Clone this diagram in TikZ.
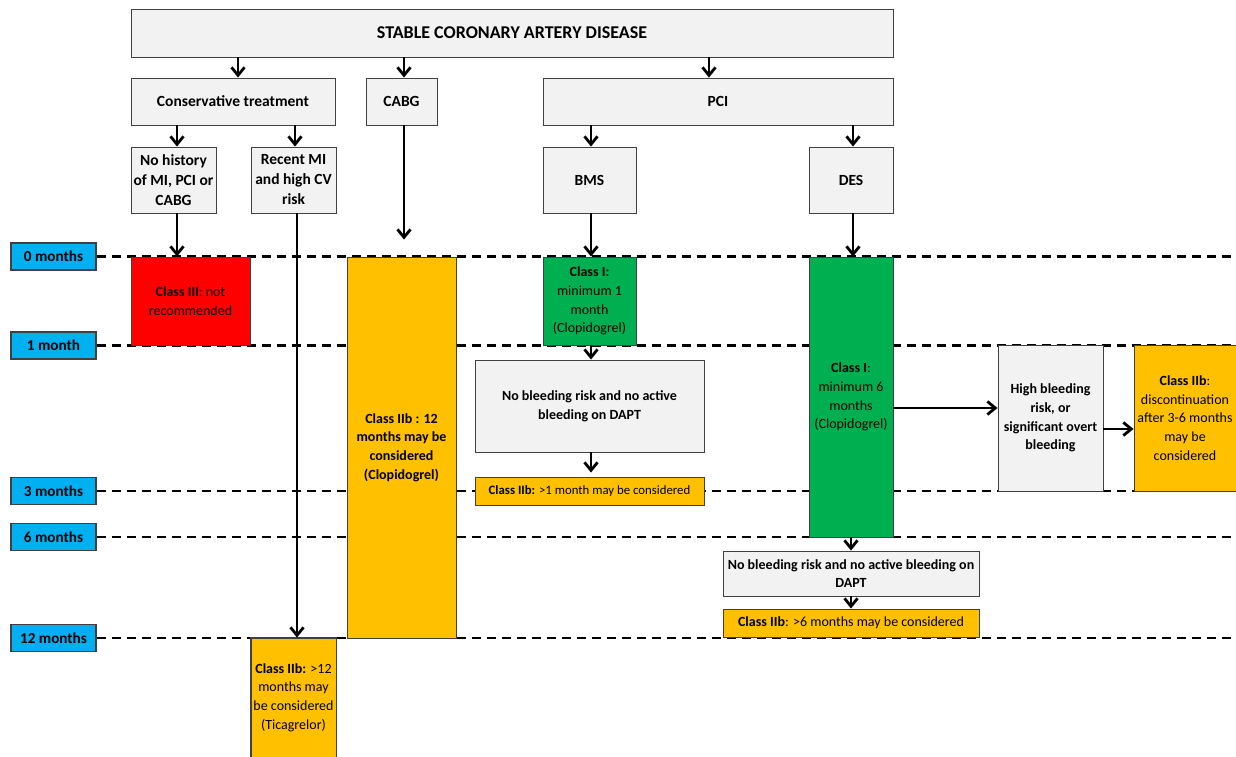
\documentclass[tikz,border=0pt]{standalone}
\usepackage{fontspec}
\setmainfont{Carlito}
\usetikzlibrary{arrows.meta}
\definecolor{cgray}{HTML}{F2F2F2}
\definecolor{cred}{HTML}{FF0000}
\definecolor{cgreen}{HTML}{00B050}
\definecolor{corange}{HTML}{FFC000}
\definecolor{ccyan}{HTML}{00B0F0}
\definecolor{cborder}{HTML}{404040}
\begin{document}
\begin{tikzpicture}[x=1pt,y=-1pt,
  box/.style={draw=cborder, line width=0.9pt, align=center, inner sep=1pt},
  hdr/.style={box, fill=cgray, font=\fontsize{15.5}{20}\selectfont\bfseries},
  cls/.style={box, font=\fontsize{14}{18.6}\selectfont},
  clsb/.style={cls, font=\fontsize{14}{18.6}\selectfont\bfseries},
  tlab/.style={box, fill=ccyan, line width=1.2pt, minimum width=85pt, minimum height=27pt, font=\fontsize{15.2}{18}\selectfont\bfseries},
  arr/.style={line width=2.8pt, -{Straight Barb[length=8pt,width=13pt]}},
  dline/.style={line width=2.2pt, dash pattern=on 9.5pt off 5.5pt},
]
\useasboundingbox (0,0) rectangle (1236,757);
\fill[white] (0,0) rectangle (1236,757);

% time labels and dashed lines
\node[tlab] (t0) at (53.5,256.5) {0 months};
\node[tlab] (t1) at (53.5,345.5) {1 month};
\node[tlab] (t3) at (53.5,491) {3 months};
\node[tlab] (t6) at (53.5,537) {6 months};
\node[tlab] (t12) at (53.5,638) {12 months};
\coordinate (e0) at (1236,256.5);
\coordinate (e1) at (1236,345.5);
\coordinate (e3) at (1236,491);
\coordinate (e6) at (1236,537);
\coordinate (e12) at (1236,638);
\draw[dline] (t0.east) -- (e0);
\draw[dline] (t1.east) -- (e1);
\draw[dline] (t3.east) -- (e3);
\draw[dline] (t6.east) -- (e6);
\draw[dline] (t12.east) -- (e12);

% header boxes
\node[hdr, minimum width=762pt, minimum height=48pt, font=\fontsize{18}{22}\selectfont\bfseries] (scad) at (512,33) {STABLE CORONARY ARTERY DISEASE};
\node[hdr, minimum width=204pt, minimum height=47pt] (cons) at (233,101.5) {Conservative treatment};
\node[hdr, minimum width=71pt, minimum height=47pt] (cabg) at (401.5,101.5) {CABG};
\node[hdr, minimum width=350pt, minimum height=47pt] (pci) at (718,101.5) {PCI};

\node[hdr, minimum width=85pt, minimum height=66pt] (nohist) at (173.5,180) {No history\\of MI, PCI or\\CABG};
\node[hdr, minimum width=85pt, minimum height=66pt] (recent) at (293.5,180) {Recent MI\\and high CV\\risk};
\node[hdr, minimum width=93pt, minimum height=66pt] (bms) at (589.5,180) {BMS};
\node[hdr, minimum width=84pt, minimum height=66pt] (des) at (851,180) {DES};

% class boxes
\node[cls, fill=cred, minimum width=119pt, minimum height=88pt] (red) at (190.5,301) {\textbf{Class III}: not\\recommended};
\node[clsb, fill=corange, minimum width=109pt, minimum height=381pt] (cabgo) at (401.5,447.5) {Class IIb : 12\\months may be\\considered\\(Clopidogrel)};
\node[cls, fill=corange, minimum width=85pt, minimum height=119pt] (tica) at (293.5,697.5) {\textbf{Class IIb:} >12\\months may\\be considered\\(Ticagrelor)};
\draw[cborder, line width=0.9pt] (tica.south west) -- (tica.north west) -- (tica.north east) -- (tica.south east);

\node[cls, fill=cgreen, minimum width=93pt, minimum height=88pt] (bmsg) at (589.5,301) {\textbf{Class I:}\\minimum 1\\month\\(Clopidogrel)};
\node[clsb, fill=cgray, minimum width=229pt, minimum height=92pt] (nb1) at (589.5,406) {No bleeding risk and no active\\bleeding on DAPT};
\node[cls, fill=corange, minimum width=229pt, minimum height=28pt, font=\fontsize{12.8}{16}\selectfont] (o1) at (589.5,491) {\textbf{Class IIb:} >1 month may be considered};

\node[cls, fill=cgreen, minimum width=84pt, minimum height=280pt] (desg) at (851,397) {\textbf{Class I}:\\minimum 6\\months\\(Clopidogrel)};
\node[clsb, fill=cgray, minimum width=105pt, minimum height=146pt] (hbr) at (1050.5,418) {High bleeding\\risk, or\\significant overt\\bleeding};
\node[cls, fill=corange, minimum width=102pt, minimum height=146pt] (o3) at (1185,418) {\textbf{Class IIb}:\\discontinuation\\after 3-6 months\\may be\\considered};
\node[clsb, fill=cgray, minimum width=256pt, minimum height=45pt] (nb2) at (851,573.5) {No bleeding risk and no active bleeding on\\DAPT};
\node[cls, fill=corange, minimum width=256pt, minimum height=28pt] (o2) at (851,623) {\textbf{Class IIb}: >6 months may be considered};

% arrows
\draw[arr] ([xshift=5pt]cons.north |- scad.south) -- ([xshift=5pt]cons.north);
\draw[arr] ([xshift=2.5pt]cabg.north |- scad.south) -- ([xshift=2.5pt]cabg.north);
\draw[arr] ([xshift=-9pt]pci.north |- scad.south) -- ([xshift=-9pt]pci.north);
\draw[arr] ([xshift=3.5pt]nohist.north |- cons.south) -- ([xshift=3.5pt]nohist.north);
\draw[arr] ([xshift=1.5pt]recent.north |- cons.south) -- ([xshift=1.5pt]recent.north);
\draw[arr] ([xshift=1.5pt]bms.north |- pci.south) -- ([xshift=1.5pt]bms.north);
\draw[arr] ([xshift=2pt]des.north |- pci.south) -- ([xshift=2pt]des.north);
\draw[arr] ([xshift=3.5pt]nohist.south) -- ([xshift=3.5pt]nohist.south |- red.north);
\draw[arr] ([xshift=3.5pt]recent.south) -- ([xshift=3.5pt]recent.south |- tica.north);
\draw[arr] ([xshift=2.5pt]cabg.south) -- ([xshift=2.5pt,yshift=17pt]cabgo.north);
\draw[arr] ([xshift=1.5pt]bms.south) -- ([xshift=1.5pt]bms.south |- bmsg.north);
\draw[arr] ([xshift=1.5pt]bmsg.south) -- ([xshift=1.5pt]bmsg.south |- nb1.north);
\draw[arr] ([xshift=1.5pt]nb1.south) -- ([xshift=1.5pt,yshift=4pt]nb1.south |- o1.north);
\draw[arr] ([xshift=2pt]des.south) -- ([xshift=2pt]des.south |- desg.north);
\draw[arr] (desg.south) -- (desg.south |- nb2.north);
\draw[arr] (nb2.south) -- (o2.north);
\draw[arr] ([yshift=-11pt]desg.east) -- ([yshift=-11pt]desg.east -| hbr.west);
\draw[arr] ([yshift=-11pt]hbr.east) -- ([yshift=-11pt]o3.west);
\end{tikzpicture}
\end{document}
